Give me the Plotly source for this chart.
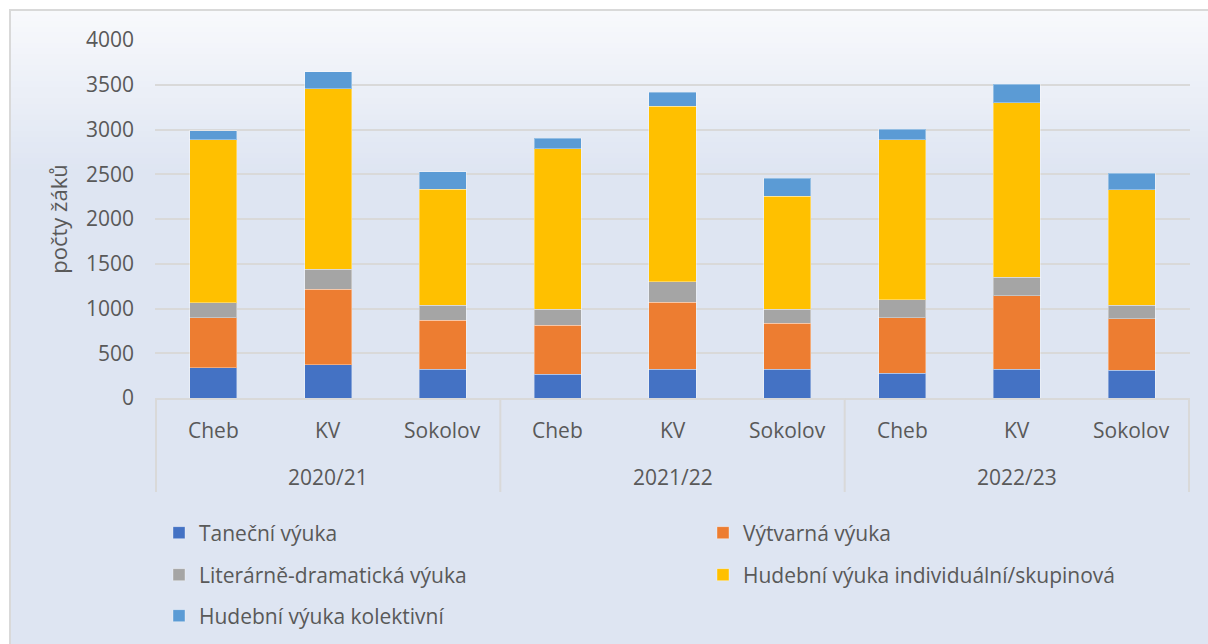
import plotly.graph_objects as go

years = ["2020/21", "2021/22", "2022/23"]
places = ["Cheb", "KV", "Sokolov"]

series_names = [
    "Taneční výuka",
    "Výtvarná výuka",
    "Literárně-dramatická výuka",
    "Hudební výuka individuální/skupinová",
    "Hudební výuka kolektivní",
]
colors = ["#4472C4", "#ED7D31", "#A5A5A5", "#FFC000", "#5B9BD5"]

# order: 2020/21 Cheb, KV, Sokolov, 2021/22 ..., 2022/23 ...
tanecni = [339, 369, 324, 268, 320, 320, 279, 324, 309]
vytvarna = [558, 845, 544, 544, 749, 518, 618, 819, 574]
literarni = [168, 227, 171, 182, 231, 156, 201, 209, 156]
hudebni_ind = [1818, 2015, 1293, 1792, 1959, 1263, 1788, 1947, 1289]
hudebni_kol = [104, 190, 197, 115, 156, 201, 116, 205, 186]

series_values = [tanecni, vytvarna, literarni, hudebni_ind, hudebni_kol]

x_outer = [y for y in years for _ in places]
x_inner = [p for _ in years for p in places]

W, H = 1208, 644
L, R, T, B = 155, 18, 40, 246
PW, PH = W - L - R, H - T - B

def px(x):
    return (x - L) / PW

def py(y):
    return (H - B - y) / PH

TXT = "#595959"
FONT = "Open Sans"

fig = go.Figure()
legend_ids = ["legend", "legend2", "legend3", "legend4", "legend5"]
for name, vals, col, lg in zip(series_names, series_values, colors, legend_ids):
    fig.add_trace(go.Bar(
        x=[x_outer, x_inner], y=vals, name=name,
        marker=dict(color=col, line=dict(color="rgba(255,255,255,0.35)", width=1)),
        legend=lg, showlegend=True,
    ))

shapes = []
# gradient background
top_c = (248, 249, 252)
bot_c = (222, 229, 242)
y0, y1 = 10, 175
n = 30
for i in range(n):
    t = i / (n - 1)
    c = tuple(round(top_c[k] + (bot_c[k] - top_c[k]) * t) for k in range(3))
    ya = y0 + (y1 - y0) * i / n
    yb = y0 + (y1 - y0) * (i + 1) / n + 0.5
    shapes.append(dict(type="rect", xref="paper", yref="paper", layer="below",
                       x0=px(10), x1=px(W + 5), y0=py(ya), y1=py(yb),
                       fillcolor="rgb(%d,%d,%d)" % c, line=dict(width=0)))
shapes.append(dict(type="rect", xref="paper", yref="paper", layer="below",
                   x0=px(10), x1=px(W + 5), y0=py(y1), y1=py(H + 5),
                   fillcolor="rgb(%d,%d,%d)" % bot_c, line=dict(width=0)))
# border
shapes.append(dict(type="rect", xref="paper", yref="paper", layer="below",
                   x0=px(10), x1=px(W + 5), y0=py(10), y1=py(H + 5),
                   fillcolor="rgba(0,0,0,0)", line=dict(color="#d9d9d9", width=2)))

# category axis: group dividers and labels (positions from category indices)
n_in = len(places)
annotations = []
for g, yr in enumerate(years):
    start = g * n_in
    shapes.append(dict(type="line", xref="x", yref="paper", layer="above",
                       x0=start - 0.5, x1=start - 0.5, y0=py(398), y1=py(492),
                       line=dict(color="#d9d9d9", width=2)))
    for j, p in enumerate(places):
        annotations.append(dict(xref="x", yref="paper", x=start + j, y=py(430),
                                text=p, showarrow=False, yanchor="middle",
                                font=dict(family=FONT, size=21, color=TXT)))
    annotations.append(dict(xref="x", yref="paper", x=start + (n_in - 1) / 2, y=py(477),
                            text=yr, showarrow=False, yanchor="middle",
                            font=dict(family=FONT, size=21, color=TXT)))
last = len(years) * n_in - 0.5
shapes.append(dict(type="line", xref="x", yref="paper", layer="above",
                   x0=last, x1=last, y0=py(398), y1=py(492),
                   line=dict(color="#d9d9d9", width=2)))

legend_common = dict(
    orientation="h", xanchor="left", yanchor="middle",
    font=dict(family=FONT, size=21, color=TXT),
    bgcolor="rgba(0,0,0,0)",
    itemclick=False, itemdoubleclick=False, visible=True,
)
c1, c2 = 159, 703
r1, r2, r3 = 533, 575, 616

fig.update_layout(
    width=W, height=H,
    margin=dict(l=L, r=R, t=T, b=B, autoexpand=False),
    paper_bgcolor="white",
    plot_bgcolor="rgba(0,0,0,0)",
    barmode="stack",
    bargap=0.59,
    showlegend=True,
    shapes=shapes,
    annotations=annotations,
    font=dict(family=FONT, color=TXT),
    legend=dict(**legend_common, x=px(c1), y=py(r1)),
    legend2=dict(**legend_common, x=px(c2), y=py(r1)),
    legend3=dict(**legend_common, x=px(c1), y=py(r2)),
    legend4=dict(**legend_common, x=px(c2), y=py(r2)),
    legend5=dict(**legend_common, x=px(c1), y=py(r3)),
    yaxis=dict(
        range=[0, 4000], dtick=500, showgrid=True, gridcolor="#d9d9d9", gridwidth=2,
        zeroline=False, showline=False, automargin=False,
        tickfont=dict(family=FONT, size=21, color=TXT),
        ticklabelstandoff=20,
        title=dict(text="počty žáků", font=dict(family=FONT, size=22, color=TXT),
                   standoff=12),
    ),
    xaxis=dict(
        type="multicategory", automargin=False,
        showline=True, linecolor="#d9d9d9", linewidth=2,
        showticklabels=False, showdividers=False,
        showgrid=False,
    ),
)

fig.write_html(
    "out.html",
    config={"displayModeBar": False},
    post_script="document.body.style.margin='0';document.body.style.overflow='hidden';",
)
